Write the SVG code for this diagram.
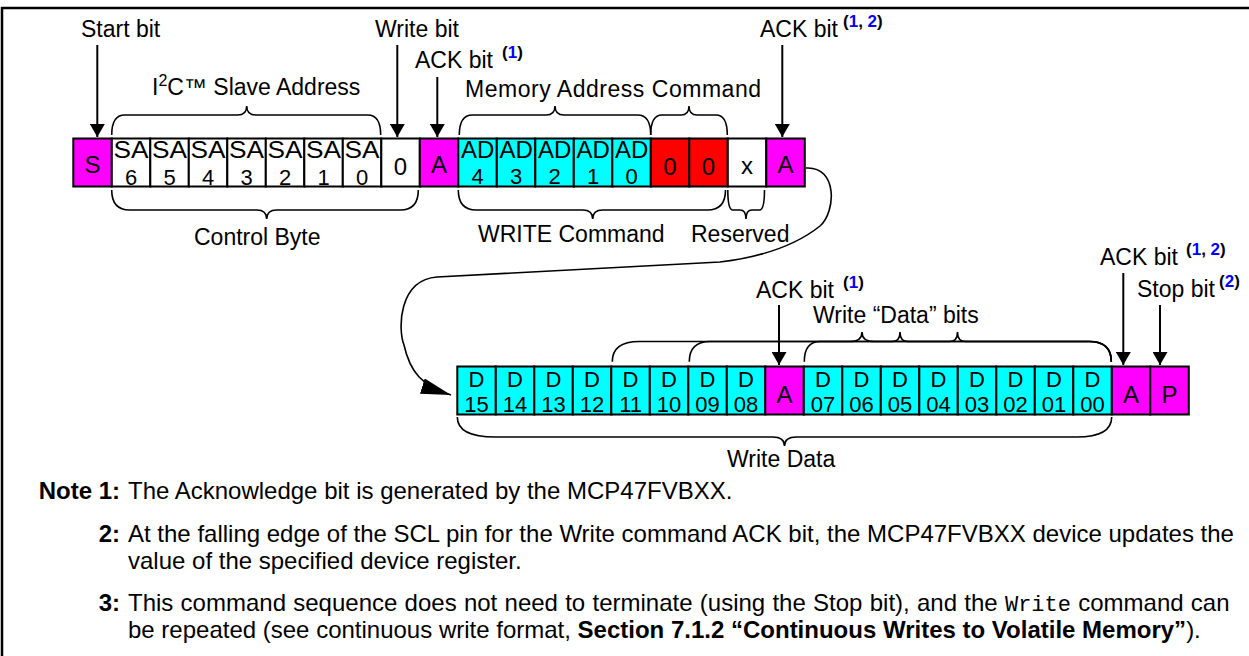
<svg xmlns="http://www.w3.org/2000/svg" width="1249" height="656" viewBox="0 0 1249 656">
<defs>
<style>
text{font-family:"Liberation Sans",Arial,Helvetica,sans-serif;fill:#000}
.cell{stroke:#000;stroke-width:2}
.m{fill:#FF00FF}.c{fill:#00FFFF}.r{fill:#FF0000}.w{fill:#FFFFFF}
.ct{font-size:24px;text-anchor:middle}
.cd{font-size:22px;text-anchor:middle}
.lbl{font-size:23px}
.sup{font-size:17px;font-weight:bold}
.bl{fill:#0000FF}
.br{fill:none;stroke:#000;stroke-width:1.6}
.ar{fill:none;stroke:#000;stroke-width:2;marker-end:url(#ah)}
.cv{fill:none;stroke:#000;stroke-width:1.6;marker-end:url(#ahb)}
.nt{font-size:24px}
.b{font-weight:bold}
.mono{font-family:"Liberation Mono","Courier New",monospace;font-size:22px}
.frame{stroke:#000;stroke-width:2.5;fill:none}
</style>
<marker id="ah" viewBox="0 0 13 15" refX="13" refY="7.5" markerWidth="13" markerHeight="15" markerUnits="userSpaceOnUse" orient="auto"><path d="M0,0 L13,7.5 L0,15 z" fill="#000"/></marker>
<marker id="ahb" viewBox="0 0 30 16" refX="30" refY="8" markerWidth="30" markerHeight="16" markerUnits="userSpaceOnUse" orient="auto"><path d="M0,0 L30,8 L0,16 z" fill="#000"/></marker>
</defs>
<rect x="0" y="0" width="1249" height="656" fill="#FFFFFF"/>
<path class="frame" d="M2,656 V8 H1249"/>

<g id="row-command">
<g id="cell-start"><rect class="cell m" x="73.3" y="138.5" width="38.5" height="48"/><text class="ct" x="92.55" y="173">S</text></g>
<g id="cell-sa6"><rect class="cell w" x="111.8" y="138.5" width="38.5" height="48"/><text class="ct" x="131.05" y="158" textLength="35" lengthAdjust="spacingAndGlyphs">SA</text><text class="cd" x="131.05" y="184.5">6</text></g>
<g id="cell-sa5"><rect class="cell w" x="150.3" y="138.5" width="38.5" height="48"/><text class="ct" x="169.55" y="158" textLength="35" lengthAdjust="spacingAndGlyphs">SA</text><text class="cd" x="169.55" y="184.5">5</text></g>
<g id="cell-sa4"><rect class="cell w" x="188.8" y="138.5" width="38.5" height="48"/><text class="ct" x="208.05" y="158" textLength="35" lengthAdjust="spacingAndGlyphs">SA</text><text class="cd" x="208.05" y="184.5">4</text></g>
<g id="cell-sa3"><rect class="cell w" x="227.3" y="138.5" width="38.5" height="48"/><text class="ct" x="246.55" y="158" textLength="35" lengthAdjust="spacingAndGlyphs">SA</text><text class="cd" x="246.55" y="184.5">3</text></g>
<g id="cell-sa2"><rect class="cell w" x="265.8" y="138.5" width="38.5" height="48"/><text class="ct" x="285.05" y="158" textLength="35" lengthAdjust="spacingAndGlyphs">SA</text><text class="cd" x="285.05" y="184.5">2</text></g>
<g id="cell-sa1"><rect class="cell w" x="304.3" y="138.5" width="38.5" height="48"/><text class="ct" x="323.55" y="158" textLength="35" lengthAdjust="spacingAndGlyphs">SA</text><text class="cd" x="323.55" y="184.5">1</text></g>
<g id="cell-sa0"><rect class="cell w" x="342.8" y="138.5" width="38.5" height="48"/><text class="ct" x="362.05" y="158" textLength="35" lengthAdjust="spacingAndGlyphs">SA</text><text class="cd" x="362.05" y="184.5">0</text></g>
<g id="cell-rw"><rect class="cell w" x="381.3" y="138.5" width="38.5" height="48"/><text class="ct" x="400.55" y="174.5">0</text></g>
<g id="cell-ack1"><rect class="cell m" x="419.8" y="138.5" width="38.5" height="48"/><text class="ct" x="439.05" y="173">A</text></g>
<g id="cell-ad4"><rect class="cell c" x="458.3" y="138.5" width="38.5" height="48"/><text class="ct" x="477.55" y="158">AD</text><text class="cd" x="477.55" y="183.5">4</text></g>
<g id="cell-ad3"><rect class="cell c" x="496.8" y="138.5" width="38.5" height="48"/><text class="ct" x="516.05" y="158">AD</text><text class="cd" x="516.05" y="183.5">3</text></g>
<g id="cell-ad2"><rect class="cell c" x="535.3" y="138.5" width="38.5" height="48"/><text class="ct" x="554.55" y="158">AD</text><text class="cd" x="554.55" y="183.5">2</text></g>
<g id="cell-ad1"><rect class="cell c" x="573.8" y="138.5" width="38.5" height="48"/><text class="ct" x="593.05" y="158">AD</text><text class="cd" x="593.05" y="183.5">1</text></g>
<g id="cell-ad0"><rect class="cell c" x="612.3" y="138.5" width="38.5" height="48"/><text class="ct" x="631.55" y="158">AD</text><text class="cd" x="631.55" y="183.5">0</text></g>
<g id="cell-c1"><rect class="cell r" x="650.8" y="138.5" width="38.5" height="48"/><text class="ct" x="670.05" y="175">0</text></g>
<g id="cell-c0"><rect class="cell r" x="689.3" y="138.5" width="38.5" height="48"/><text class="ct" x="708.55" y="175">0</text></g>
<g id="cell-res"><rect class="cell w" x="727.8" y="138.5" width="38.5" height="48"/><text class="ct" x="747.05" y="174">x</text></g>
<g id="cell-ack2"><rect class="cell m" x="766.3" y="138.5" width="38.5" height="48"/><text class="ct" x="785.55" y="173">A</text></g>
</g>

<g id="row-data">
<g id="cell-d15"><rect class="cell c" x="457.3" y="366.5" width="38.5" height="48"/><text class="cd" x="476.55" y="386.5">D</text><text class="cd" x="476.55" y="411.5">15</text></g>
<g id="cell-d14"><rect class="cell c" x="495.8" y="366.5" width="38.5" height="48"/><text class="cd" x="515.05" y="386.5">D</text><text class="cd" x="515.05" y="411.5">14</text></g>
<g id="cell-d13"><rect class="cell c" x="534.3" y="366.5" width="38.5" height="48"/><text class="cd" x="553.55" y="386.5">D</text><text class="cd" x="553.55" y="411.5">13</text></g>
<g id="cell-d12"><rect class="cell c" x="572.8" y="366.5" width="38.5" height="48"/><text class="cd" x="592.05" y="386.5">D</text><text class="cd" x="592.05" y="411.5">12</text></g>
<g id="cell-d11"><rect class="cell c" x="611.3" y="366.5" width="38.5" height="48"/><text class="cd" x="630.55" y="386.5">D</text><text class="cd" x="630.55" y="411.5">11</text></g>
<g id="cell-d10"><rect class="cell c" x="649.8" y="366.5" width="38.5" height="48"/><text class="cd" x="669.05" y="386.5">D</text><text class="cd" x="669.05" y="411.5">10</text></g>
<g id="cell-d09"><rect class="cell c" x="688.3" y="366.5" width="38.5" height="48"/><text class="cd" x="707.55" y="386.5">D</text><text class="cd" x="707.55" y="411.5">09</text></g>
<g id="cell-d08"><rect class="cell c" x="726.8" y="366.5" width="38.5" height="48"/><text class="cd" x="746.05" y="386.5">D</text><text class="cd" x="746.05" y="411.5">08</text></g>
<g id="cell-ack3"><rect class="cell m" x="765.3" y="366.5" width="38.5" height="48"/><text class="ct" x="784.55" y="402.5">A</text></g>
<g id="cell-d07"><rect class="cell c" x="803.8" y="366.5" width="38.5" height="48"/><text class="cd" x="823.05" y="386.5">D</text><text class="cd" x="823.05" y="411.5">07</text></g>
<g id="cell-d06"><rect class="cell c" x="842.3" y="366.5" width="38.5" height="48"/><text class="cd" x="861.55" y="386.5">D</text><text class="cd" x="861.55" y="411.5">06</text></g>
<g id="cell-d05"><rect class="cell c" x="880.8" y="366.5" width="38.5" height="48"/><text class="cd" x="900.05" y="386.5">D</text><text class="cd" x="900.05" y="411.5">05</text></g>
<g id="cell-d04"><rect class="cell c" x="919.3" y="366.5" width="38.5" height="48"/><text class="cd" x="938.55" y="386.5">D</text><text class="cd" x="938.55" y="411.5">04</text></g>
<g id="cell-d03"><rect class="cell c" x="957.8" y="366.5" width="38.5" height="48"/><text class="cd" x="977.05" y="386.5">D</text><text class="cd" x="977.05" y="411.5">03</text></g>
<g id="cell-d02"><rect class="cell c" x="996.3" y="366.5" width="38.5" height="48"/><text class="cd" x="1015.55" y="386.5">D</text><text class="cd" x="1015.55" y="411.5">02</text></g>
<g id="cell-d01"><rect class="cell c" x="1034.8" y="366.5" width="38.5" height="48"/><text class="cd" x="1054.05" y="386.5">D</text><text class="cd" x="1054.05" y="411.5">01</text></g>
<g id="cell-d00"><rect class="cell c" x="1073.3" y="366.5" width="38.5" height="48"/><text class="cd" x="1092.55" y="386.5">D</text><text class="cd" x="1092.55" y="411.5">00</text></g>
<g id="cell-ack4"><rect class="cell m" x="1111.8" y="366.5" width="38.5" height="48"/><text class="ct" x="1131.05" y="402.5">A</text></g>
<g id="cell-stop"><rect class="cell m" x="1150.3" y="366.5" width="38.5" height="48"/><text class="ct" x="1169.55" y="402.5">P</text></g>
</g>

<g id="braces">
<path class="br" d="M111.7,135 Q111.7,115 124.7,115 L237.7,115 Q246.7,115 246.7,106 Q246.7,115 255.7,115 L367.7,115 Q380.7,115 380.7,135"/>
<path class="br" d="M459.3,135 Q459.3,115 472.3,115 L546,115 Q555,115 555,106 Q555,115 564,115 L637.7,115 Q650.7,115 650.7,135"/>
<path class="br" d="M650.7,135 Q650.7,115 662,115 L681,115 Q689,115 689,106 Q689,115 697,115 L716,115 Q727.3,115 727.3,135"/>
<path class="br" d="M111.7,190 Q111.7,210 129.7,210 L256.7,210 Q266.7,210 266.7,219 Q266.7,210 276.7,210 L400.3,210 Q418.3,210 418.3,190"/>
<path class="br" d="M458.3,190 Q458.3,210 476.3,210 L582.7,210 Q592.7,210 592.7,219 Q592.7,210 602.7,210 L707.5,210 Q725.5,210 725.5,190"/>
<path class="br" d="M727.8,190 Q727.8,210 732.8,210 L740,210 Q746,210 746,219 Q746,210 752,210 L759.5,210 Q764.5,210 764.5,190"/>
<path class="br" d="M612.3,361.7 Q612.3,341.5 639.3,341.5 L850,341.5 Q862,341.5 862,332 Q862,341.5 874,341.5 L1089.3,341.5 Q1111.3,341.5 1111.3,361.7"/>
<path class="br" d="M689.3,361.7 Q689.3,341.5 710.3,341.5 L892,341.5 Q900,341.5 900,332 Q900,341.5 908,341.5 L1089.3,341.5 Q1111.3,341.5 1111.3,361.7"/>
<path class="br" d="M804.3,361.7 Q804.3,341.5 820.3,341.5 L949.5,341.5 Q957.5,341.5 957.5,332 Q957.5,341.5 965.5,341.5 L1089.3,341.5 Q1111.3,341.5 1111.3,361.7"/>
<path class="br" d="M457.3,417 Q457.3,437 495.3,437 L772.5,437 Q784.5,437 784.5,446 Q784.5,437 796.5,437 L1076.7,437 Q1111.7,437 1111.7,417"/>
</g>

<g id="connectors">
<line class="ar" x1="97.3" y1="45" x2="97.3" y2="137"/>
<line class="ar" x1="397.3" y1="45" x2="397.3" y2="137"/>
<line class="ar" x1="437.3" y1="77" x2="437.3" y2="137"/>
<line class="ar" x1="782.3" y1="45" x2="782.3" y2="137"/>
<line class="ar" x1="779" y1="305" x2="779" y2="365"/>
<line class="ar" x1="1123.3" y1="273" x2="1123.3" y2="365"/>
<line class="ar" x1="1160" y1="305" x2="1160" y2="365"/>
<path class="cv" d="M806,168 C838,166 836,212 820,226 C800,242 770,256 720,262 L437,277 C398,280 398,330 404,345 C410,372 422,386 451,395"/>
</g>

<g id="labels">
<g id="lbl-start"><text class="lbl" x="81" y="37">Start bit</text></g>
<g id="lbl-write"><text class="lbl" x="375" y="37">Write bit</text></g>
<g id="lbl-ack1"><text class="lbl" x="415" y="68">ACK bit</text><text class="sup" x="502" y="58">(<tspan class="bl">1</tspan>)</text></g>
<g id="lbl-i2c"><text class="lbl" x="152" y="95">I<tspan font-size="16" dy="-9">2</tspan><tspan dy="9">C™ Slave Address</tspan></text></g>
<g id="lbl-mem"><text class="lbl" x="465" y="97" textLength="296">Memory Address Command</text></g>
<g id="lbl-ack2"><text class="lbl" x="760" y="37">ACK bit</text><text class="sup" x="843" y="27">(<tspan class="bl">1</tspan>, <tspan class="bl">2</tspan>)</text></g>
<g id="lbl-ctrl"><text class="lbl" x="194" y="245">Control Byte</text></g>
<g id="lbl-wcmd"><text class="lbl" x="478" y="242">WRITE Command</text></g>
<g id="lbl-res"><text class="lbl" x="691" y="242">Reserved</text></g>
<g id="lbl-ack3"><text class="lbl" x="756" y="298">ACK bit</text><text class="sup" x="843" y="288">(<tspan class="bl">1</tspan>)</text></g>
<g id="lbl-wdb"><text class="lbl" x="813" y="323">Write “Data” bits</text></g>
<g id="lbl-ack4"><text class="lbl" x="1100" y="265">ACK bit</text><text class="sup" x="1186" y="255">(<tspan class="bl">1</tspan>, <tspan class="bl">2</tspan>)</text></g>
<g id="lbl-stop"><text class="lbl" x="1137" y="297">Stop bit</text><text class="sup" x="1219" y="287">(<tspan class="bl">2</tspan>)</text></g>
<g id="lbl-wdata"><text class="lbl" x="727" y="467">Write Data</text></g>
</g>

<g id="notes">
<text class="nt b" x="120" y="499" text-anchor="end">Note 1:</text>
<text class="nt" x="128" y="499">The Acknowledge bit is generated by the MCP47FVBXX.</text>
<text class="nt b" x="120" y="542" text-anchor="end">2:</text>
<text class="nt" x="128" y="542">At the falling edge of the SCL pin for the Write command ACK bit, the MCP47FVBXX device updates the</text>
<text class="nt" x="128" y="569">value of the specified device register.</text>
<text class="nt b" x="120" y="611" text-anchor="end">3:</text>
<text class="nt" x="128" y="611" word-spacing="0.6">This command sequence does not need to terminate (using the Stop bit), and the <tspan class="mono">Write</tspan> command can</text>
<text class="nt" x="128" y="638">be repeated (see continuous write format, <tspan class="b">Section 7.1.2 “Continuous Writes to Volatile Memory”</tspan>).</text>
</g>
</svg>
